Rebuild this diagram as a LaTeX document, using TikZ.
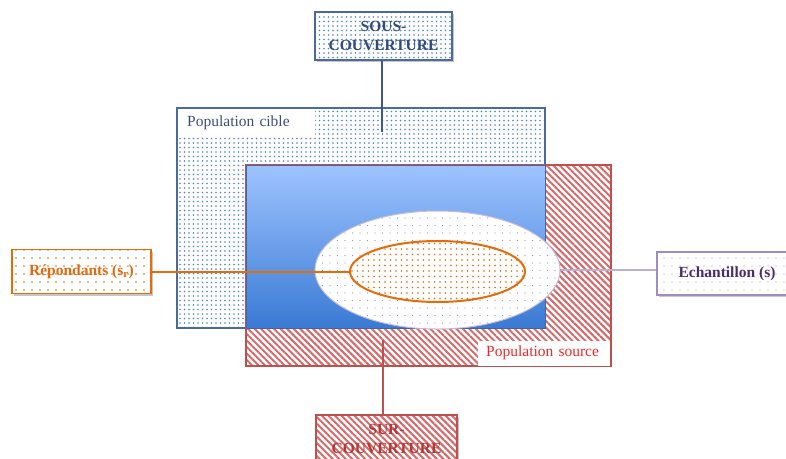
\documentclass[tikz,border=0pt]{standalone}
\usepackage{fontspec}
\setmainfont{Liberation Serif}
\usetikzlibrary{shapes.geometric,patterns.meta,shadows}

\definecolor{cibleline}{HTML}{4A6A9C}
\definecolor{cibletext}{HTML}{3B4D7A}
\definecolor{cibledot}{HTML}{4F81D0}
\definecolor{sousline}{HTML}{3A5A8E}
\definecolor{redline}{HTML}{C0504D}
\definecolor{redhatch}{HTML}{D46A6A}
\definecolor{redtext}{HTML}{F02828}
\definecolor{surtext}{HTML}{B03838}
\definecolor{orangeline}{HTML}{E46C0A}
\definecolor{orangetext}{HTML}{E06A10}
\definecolor{purpleline}{HTML}{A08CC0}
\definecolor{purpledot}{HTML}{9C8CC4}
\definecolor{purpletext}{HTML}{4B2D6E}
\definecolor{gradtop}{HTML}{9EC4FF}
\definecolor{gradbot}{HTML}{3A7AD4}

\tikzset{
  softshadow/.style={drop shadow={shadow xshift=1.5pt, shadow yshift=-2pt, opacity=0.22, fill=black}},
  bluedots/.style={preaction={fill=white}, pattern={Dots[distance=4.5pt, radius=0.8pt]}, pattern color=cibledot},
  redstripes/.style={preaction={fill=white}, pattern={Lines[angle=-45, distance=4.6pt, line width=2pt]}, pattern color=redhatch},
  region/.style={rectangle, inner sep=0pt, line width=1.4pt},
  labelbox/.style={rectangle, inner sep=0pt, line width=1.4pt, softshadow, align=center,
                   font=\fontsize{15.5}{19}\selectfont\bfseries},
  conn/.style={line width=2.4pt},
  tag/.style={anchor=north west, fill=white, inner ysep=0pt, minimum height=27pt, align=left,
              font=\fontsize{15.5}{19}\selectfont}
}

\begin{document}
\begin{tikzpicture}[x=1pt, y=-1pt]
\useasboundingbox (0,0) rectangle (786,458);

% target population (dotted) and source population (hatched)
\node[region, bluedots, draw=cibleline, minimum width=368pt, minimum height=220pt] (cible) at (361,218) {};
\node[region, redstripes, draw=redline, minimum width=365pt, minimum height=201pt] (source) at (428.5,265.5) {};
% overlap of the two populations
\node[region, line width=0.8pt, draw=cibledot!80!black, top color=gradtop, bottom color=gradbot,
      minimum width=299pt, minimum height=163pt] (overlap) at (395.5,246.5) {};

% region tags
\node[tag, text=cibletext, inner xsep=9pt, text width=119pt] (tagcible) at (178,109.5) {Population cible};
\node[tag, text=redtext, inner xsep=8pt, text width=116pt, minimum height=25pt] (tagsource) at (478,340.5) {Population source};

% sample and respondents
\node[ellipse, inner sep=0pt, draw=purpleline!60, line width=1pt, preaction={fill=white},
      pattern={Dots[distance=7.5pt, radius=0.65pt]}, pattern color=purpledot,
      minimum width=245pt, minimum height=118pt] (sample) at (437.5,270) {};
\node[ellipse, inner sep=0pt, draw=orangeline, line width=2pt, preaction={fill=white},
      pattern={Dots[distance=5.5pt, radius=0.8pt]}, pattern color=orangeline,
      minimum width=175pt, minimum height=61pt] (resp) at (437.5,271.5) {};

% callout boxes
\node[labelbox, bluedots, draw=cibleline, text=sousline!85!black,
      minimum width=137pt, minimum height=48pt] (sous) at (383.5,36) {SOUS-\\COUVERTURE};
\node[labelbox, redstripes, draw=redline, text=surtext,
      minimum width=141pt, minimum height=48pt] (sur) at (386.5,439) {SUR-\\COUVERTURE};
\node[labelbox, draw=orangeline, text=orangetext, preaction={fill=white},
      pattern={Dots[distance=8pt, radius=0.8pt]}, pattern color=orangeline,
      minimum width=139pt, minimum height=44pt] (repbox) at (81.5,271.5) {Répondants (s\textsubscript{r})};
\node[labelbox, draw=purpleline, text=purpletext, preaction={fill=white},
      pattern={Dots[distance=8pt, radius=0.65pt]}, pattern color=purpledot,
      minimum width=140pt, minimum height=43pt] (echbox) at (727,273.5) {Echantillon (s)};

% connectors
\coordinate (sousend) at (382,132);
\coordinate (surstart) at (383,340);
\draw[conn, draw=sousline] (sousend |- sous.south) -- (sousend);
\draw[conn, draw=redline] (surstart) -- (surstart |- sur.north);
\draw[conn, line width=2pt, draw=orangeline] (repbox.east) -- (resp.west);
\draw[conn, line width=2pt, draw=purpleline!70] (sample.east) -- (sample.east -| echbox.west);
\end{tikzpicture}
\end{document}
